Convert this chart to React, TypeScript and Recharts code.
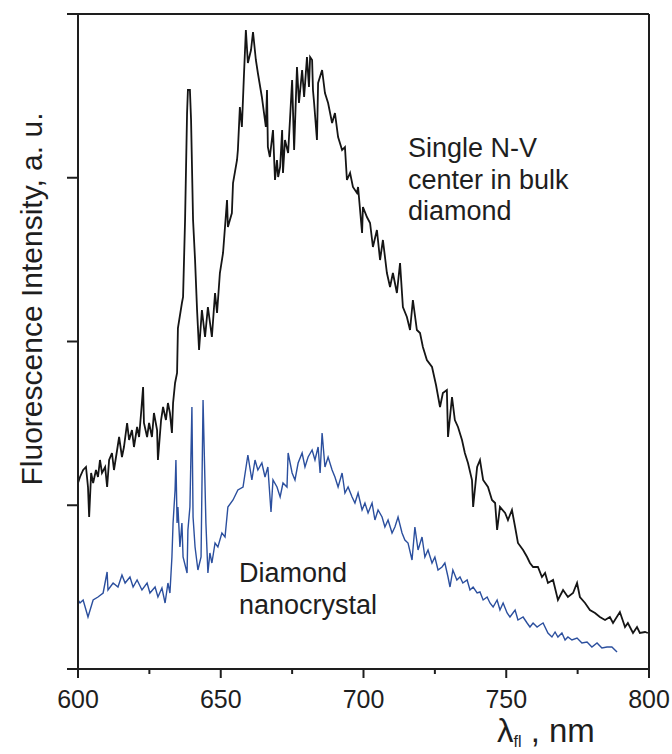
import { LineChart, Line, XAxis, YAxis, ReferenceLine, Customized } from 'recharts'

// wavelength (nm), intensity (a.u., axis runs 0..655)
const bulkNV: [number, number][] = [
  [600.0, 186], [600.7, 192], [601.8, 199], [602.8, 202], [603.5, 182], [603.9, 152], [604.6, 196], [605.3, 186],
  [606.3, 199], [607.0, 192], [607.7, 209], [608.4, 196], [609.5, 202], [610.2, 182], [610.9, 209], [611.9, 216],
  [612.6, 199], [613.7, 219], [614.4, 232], [615.4, 212], [616.1, 222], [617.2, 246], [617.9, 229], [618.9, 239],
  [619.6, 222], [620.7, 242], [621.4, 232], [622.1, 256], [622.8, 282], [623.1, 246], [624.2, 232], [624.9, 246],
  [625.9, 232], [626.6, 256], [627.7, 239], [628.0, 209], [629.1, 249], [629.8, 262], [630.8, 249], [631.5, 266],
  [632.2, 256], [632.9, 236], [633.3, 266], [634.0, 286], [634.7, 296], [635.0, 341], [636.4, 366], [636.8, 372],
  [637.5, 449], [638.2, 556], [638.5, 579], [639.2, 579], [639.6, 549], [640.3, 449], [641.0, 409], [641.7, 359],
  [642.4, 319], [643.4, 359], [644.5, 332], [645.5, 362], [646.9, 332], [648.0, 376], [648.7, 356], [649.7, 396],
  [650.8, 416], [652.2, 469], [652.5, 442], [653.9, 456], [654.3, 486], [655.7, 509], [656.0, 519], [656.7, 562],
  [657.4, 542], [658.1, 592], [658.8, 639], [659.5, 606], [660.6, 619], [661.3, 637], [662.3, 609], [663.0, 596],
  [664.4, 572], [665.8, 542], [666.2, 579], [666.5, 522], [667.2, 512], [668.3, 539], [669.0, 489], [669.7, 509],
  [670.1, 492], [670.8, 502], [671.5, 539], [671.8, 496], [672.5, 529], [673.6, 516], [674.3, 552], [675.0, 589],
  [675.7, 519], [676.7, 602], [677.4, 566], [678.5, 599], [679.2, 572], [680.2, 612], [680.9, 582], [681.3, 612],
  [682.0, 609], [682.3, 579], [682.7, 566], [683.7, 529], [684.1, 586], [685.5, 599], [686.5, 576], [687.6, 566],
  [689.0, 546], [690.0, 556], [691.1, 532], [692.5, 519], [693.5, 522], [694.2, 489], [695.3, 496], [696.3, 482],
  [697.7, 476], [698.1, 482], [699.5, 436], [699.8, 462], [701.2, 452], [702.3, 446], [703.3, 422], [704.7, 439],
  [705.8, 409], [706.8, 429], [708.2, 396], [709.3, 382], [710.3, 396], [711.7, 376], [712.8, 406], [713.8, 362],
  [715.2, 352], [716.3, 339], [717.3, 369], [718.7, 339], [719.8, 336], [720.8, 322], [722.2, 309], [724.0, 302],
  [725.4, 284], [726.8, 262], [727.8, 276], [729.2, 279], [729.6, 232], [731.0, 272], [732.0, 249], [733.1, 242],
  [734.5, 229], [735.5, 216], [736.6, 206], [738.0, 189], [738.4, 162], [739.8, 202], [740.8, 209], [741.9, 189],
  [743.6, 182], [745.0, 169], [746.1, 166], [746.8, 139], [747.8, 162], [749.6, 156], [750.6, 149], [752.0, 159],
  [753.1, 142], [754.1, 126], [755.9, 119], [757.3, 112], [758.3, 106], [759.4, 102], [761.1, 102], [762.5, 92],
  [763.6, 96], [764.6, 86], [766.4, 89], [768.1, 69], [769.9, 79], [771.6, 72], [773.4, 76], [774.8, 86],
  [775.8, 72], [777.6, 66], [779.3, 59], [781.1, 56], [782.8, 52], [784.6, 49], [786.3, 52], [787.4, 46],
  [789.8, 57], [791.6, 42], [792.6, 46], [794.4, 36], [795.8, 42], [796.8, 36], [798.6, 37], [799.6, 36],
]

const nanocrystal: [number, number][] = [
  [600.0, 69], [600.7, 66], [601.8, 69], [603.5, 52], [605.3, 69], [607.0, 72], [608.8, 76], [610.2, 97],
  [610.5, 79], [612.3, 86], [614.0, 82], [615.4, 94], [616.5, 86], [618.2, 92], [619.3, 82], [620.7, 89],
  [622.4, 79], [624.2, 86], [625.2, 76], [627.0, 82], [628.0, 72], [629.4, 81], [630.5, 66], [631.5, 86],
  [632.2, 76], [632.9, 112], [633.3, 146], [634.0, 179], [634.3, 209], [634.7, 146], [635.0, 162], [635.7, 122],
  [636.4, 146], [636.8, 112], [638.2, 96], [638.5, 139], [639.2, 162], [639.9, 262], [640.3, 152], [641.0, 122],
  [642.0, 99], [643.1, 112], [643.8, 269], [644.8, 146], [645.5, 96], [646.2, 116], [646.9, 106], [648.0, 126],
  [649.0, 122], [650.4, 136], [651.5, 132], [652.5, 162], [654.3, 169], [656.0, 179], [657.8, 182], [659.5, 214],
  [660.9, 189], [662.0, 209], [663.0, 199], [664.4, 206], [665.5, 192], [666.5, 202], [667.6, 157], [668.3, 189],
  [669.7, 182], [670.8, 172], [671.8, 186], [673.2, 182], [673.6, 216], [675.0, 196], [676.0, 189], [677.1, 206],
  [678.5, 216], [679.5, 202], [680.6, 212], [682.0, 219], [683.0, 209], [684.1, 222], [684.8, 196], [685.5, 236],
  [686.5, 202], [687.6, 212], [689.0, 199], [690.0, 192], [691.1, 182], [692.5, 196], [693.5, 176], [694.6, 182],
  [696.0, 172], [697.0, 166], [698.1, 176], [699.5, 159], [700.5, 166], [701.6, 156], [703.0, 166], [704.0, 149],
  [705.1, 159], [706.5, 152], [707.5, 142], [708.6, 149], [710.0, 136], [711.0, 142], [712.1, 152], [713.5, 136],
  [714.5, 129], [715.6, 126], [717.0, 109], [718.0, 142], [719.1, 119], [720.5, 132], [721.5, 112], [722.6, 119],
  [724.0, 106], [725.0, 112], [726.1, 99], [727.5, 102], [728.5, 106], [729.6, 92], [730.3, 82], [731.3, 99],
  [732.7, 89], [733.8, 92], [734.8, 86], [736.3, 89], [737.3, 79], [738.4, 82], [739.8, 76], [740.8, 77],
  [741.9, 69], [743.3, 72], [744.3, 66], [745.4, 62], [746.8, 69], [747.8, 59], [748.9, 66], [750.3, 56],
  [751.3, 52], [753.1, 59], [754.1, 49], [755.9, 52], [757.3, 46], [758.3, 42], [759.4, 46], [760.8, 42],
  [761.8, 44], [762.9, 46], [764.6, 36], [766.0, 32], [767.1, 37], [768.1, 32], [769.5, 36], [770.6, 29],
  [771.6, 32], [773.0, 29], [774.8, 31], [776.5, 26], [778.3, 27], [780.0, 22], [781.8, 26], [783.5, 21],
  [785.3, 22], [787.0, 22], [788.8, 17],
]

const xTicks = [600, 625, 650, 675, 700, 725, 750, 775, 800]
const yTicks = [0, 163.75, 327.5, 491.25, 655]

const bulkData = bulkNV.map(([wl, v]) => ({ wl, v }))
const nanoData = nanocrystal.map(([wl, v]) => ({ wl, v }))

const INK = '#1e1e1e'
const FONT = '"Liberation Sans", Arial, Helvetica, sans-serif'

function XTick({ x, y, payload }: any) {
  const major = payload.value % 50 === 0
  return (
    <g>
      <line x1={x} x2={x} y1={y} y2={y + (major ? 9 : 5)} stroke={INK} strokeWidth={2} />
      {major && (
        <text x={x} y={y + 39} textAnchor="middle" fontSize={25} fontFamily={FONT} fill={INK}>
          {payload.value}
        </text>
      )}
    </g>
  )
}

function Labels() {
  return (
    <g fontFamily={FONT} fill={INK}>
      <text transform="translate(42, 299) rotate(-90)" textAnchor="middle" fontSize={30}>
        Fluorescence Intensity, a. u.
      </text>
      <text x={497} y={742} fontSize={33}>
        λ<tspan fontSize={16} dy={5}>fl</tspan>
        <tspan dy={-5}> , nm</tspan>
      </text>
      <text fontSize={27}>
        <tspan x={408} y={157}>Single N-V</tspan>
        <tspan x={408} y={189}>center in bulk</tspan>
        <tspan x={408} y={220}>diamond</tspan>
      </text>
      <text fontSize={27}>
        <tspan x={239} y={582}>Diamond</tspan>
        <tspan x={239} y={614}>nanocrystal</tspan>
      </text>
    </g>
  )
}

export default function App() {
  return (
    <div style={{ width: 672, height: 754, background: '#fff' }}>
      <style>{'body{margin:0}'}</style>
      <LineChart width={672} height={754} margin={{ top: 14, right: 23, left: 0, bottom: 0 }}>
        <XAxis
          type="number"
          dataKey="wl"
          domain={[600, 800]}
          ticks={xTicks}
          interval={0}
          height={85}
          tickSize={0}
          tickMargin={0}
          tickLine={false}
          axisLine={{ stroke: INK, strokeWidth: 2 }}
          tick={<XTick />}
          allowDataOverflow
        />
        <YAxis
          type="number"
          domain={[0, 655]}
          ticks={yTicks}
          interval={0}
          width={78}
          tickSize={11}
          tickLine={{ stroke: INK, strokeWidth: 2 }}
          axisLine={{ stroke: INK, strokeWidth: 2 }}
          tick={() => <g />}
          allowDataOverflow
        />
        <ReferenceLine y={655} stroke={INK} strokeWidth={2} />
        <ReferenceLine x={800} stroke={INK} strokeWidth={2} />
        <Line
          data={bulkData}
          dataKey="v"
          type="linear"
          stroke="#151515"
          strokeWidth={1.8}
          dot={false}
          isAnimationActive={false}
        />
        <Line
          data={nanoData}
          dataKey="v"
          type="linear"
          stroke="#2b4f9e"
          strokeWidth={1.4}
          dot={false}
          isAnimationActive={false}
        />
        <Customized component={Labels} />
      </LineChart>
    </div>
  )
}
